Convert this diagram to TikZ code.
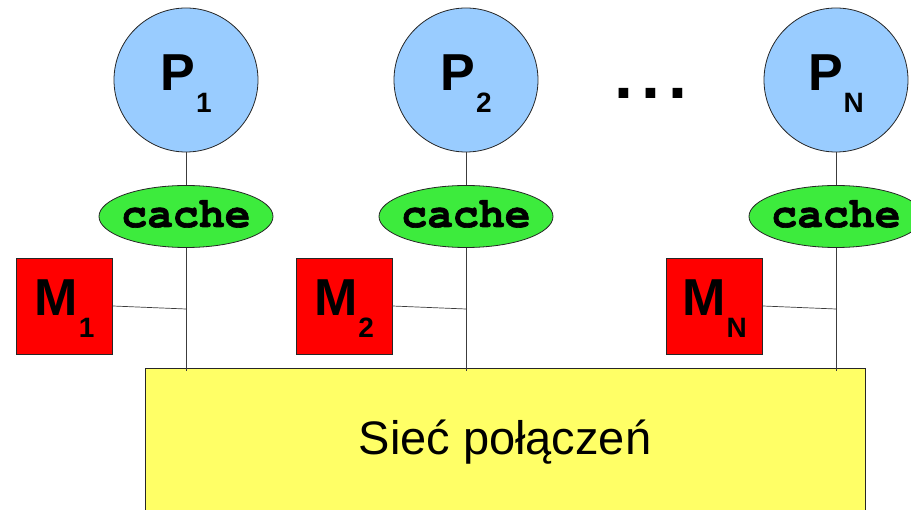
\documentclass[tikz,border=0pt]{standalone}
\usepackage{fontspec}
\setmainfont{Liberation Sans}
\newfontfamily\headfont{Liberation Sans Bold}
\newfontfamily\cachefont{texgyrecursor-bold.otf}[FakeBold=1.5]
\usetikzlibrary{shapes.geometric}

\definecolor{procblue}{RGB}{153,204,255}
\definecolor{cachegreen}{RGB}{61,235,61}
\definecolor{memred}{RGB}{255,0,0}
\definecolor{netyellow}{RGB}{255,255,102}
\definecolor{wirecol}{RGB}{60,60,60}

% big bold letter with a lowered index
\newcommand{\unitlabel}[2]{{\headfont\fontsize{52}{52}\selectfont #1}\hspace{1pt}\raisebox{-22pt}{\headfont\fontsize{28}{28}\selectfont #2}}
% caption that does not widen its ellipse
\newcommand{\cachelabel}[1]{\makebox[0pt][c]{#1}}

\begin{document}
\begin{tikzpicture}[x=1pt,y=-1pt,
  proc/.style={circle, draw=black!85, fill=procblue, line width=0.8pt,
    minimum size=144pt, inner sep=0pt, text height=21pt, text depth=0pt},
  cachebox/.style={ellipse, draw=black!85, fill=cachegreen, line width=0.8pt,
    minimum width=174pt, minimum height=62pt, inner sep=0pt,
    font=\cachefont\fontsize{43}{43}\selectfont,
    text height=21pt, text depth=0pt},
  mem/.style={rectangle, draw=black!85, fill=memred, line width=0.8pt,
    minimum size=96pt, inner sep=0pt, text height=20pt, text depth=0pt},
  net/.style={rectangle, draw=black!85, fill=netyellow, line width=0.8pt,
    minimum width=720pt, minimum height=172pt, inner sep=0pt},
  wire/.style={draw=wirecol, line width=0.7pt}]

\useasboundingbox (0,0) rectangle (911,510);
\clip (0,0) rectangle (911,510);

% interconnection network
\node[net] (net) at (505,454) {};
\node[anchor=base, font=\fontsize{47}{47}\selectfont] (netlbl) at (505,455) {Sieć połączeń};

% processors
\node[proc] (p1) at (186,80) {\unitlabel{P}{1}};
\node[proc] (p2) at (466,80) {\unitlabel{P}{2}};
\node[proc] (pn) at (836,80) {\unitlabel{P}{N}};
\node[anchor=base, font=\headfont\fontsize{68}{68}\selectfont] (dots) at (651,99) {.\kern8pt.\kern8pt.};

% caches
\node[cachebox] (c1) at (186,216.5) {\cachelabel{cache}};
\node[cachebox] (c2) at (466,216.5) {\cachelabel{cache}};
\node[cachebox] (cn) at (836,216.5) {\cachelabel{cache}};

% local memories
\node[mem] (m1) at (64.5,306) {\unitlabel{M}{1}};
\node[mem] (m2) at (344,306) {\unitlabel{M}{2}};
\node[mem] (mn) at (714.5,306) {\unitlabel{M}{N}};

% junctions on the vertical buses and their feet on the network
\coordinate (j1) at (186,309);
\coordinate (j2) at (466,309);
\coordinate (jn) at (836,309);
\coordinate (b1) at (186,371);
\coordinate (b2) at (466,371);
\coordinate (bn) at (836,371);

\foreach \k in {1,2,n}{
  \draw[wire] (p\k) -- (c\k);
  \draw[wire] (c\k) -- (b\k);
  \draw[wire] (m\k.east) -- (j\k);
}
\end{tikzpicture}
\end{document}
